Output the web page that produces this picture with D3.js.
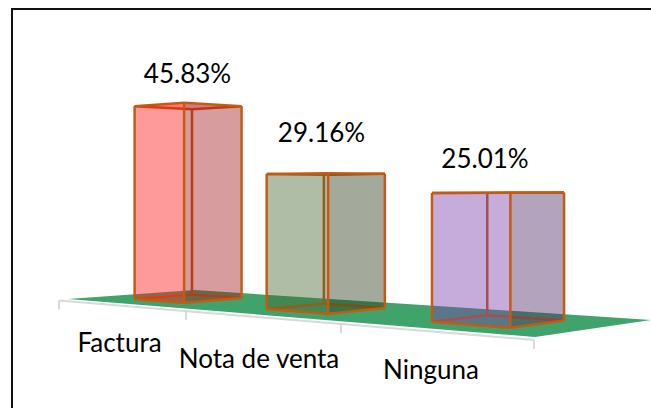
<!DOCTYPE html>
<html><head><meta charset="utf-8">
<script src="https://cdnjs.cloudflare.com/ajax/libs/d3/7.8.5/d3.min.js"></script>
<style>html,body{margin:0;padding:0;background:#fff}svg{display:block}text{font-family:Lato,"Open Sans",sans-serif;fill:#000}</style>
</head><body><svg id="c" width="651" height="408"></svg>
<script>
const categories = ["Factura", "Nota de venta", "Ninguna"];
const values = [45.83, 29.16, 25.01];
const valueLabels = ["45.83%", "29.16%", "25.01%"];

const svg = d3.select("#c");
svg.append("path").attr("d","M12,408V9H651").attr("fill","none").attr("stroke","#111").attr("stroke-width",2);

const Q = [[68,299],[535,337],[651,320],[195,290]];
function makeHomography([p0,p1,p2,p3]){
  const dx1=p1[0]-p2[0],dx2=p3[0]-p2[0],sx=p0[0]-p1[0]+p2[0]-p3[0];
  const dy1=p1[1]-p2[1],dy2=p3[1]-p2[1],sy=p0[1]-p1[1]+p2[1]-p3[1];
  const den=dx1*dy2-dx2*dy1;
  const g=(sx*dy2-dx2*sy)/den,h=(dx1*sy-sx*dy1)/den;
  const a=p1[0]-p0[0]+g*p1[0],b=p3[0]-p0[0]+h*p3[0];
  const d=p1[1]-p0[1]+g*p1[1],e=p3[1]-p0[1]+h*p3[1];
  return (u,v)=>{const w=1+g*u+h*v;return {x:(p0[0]+a*u+b*v)/w,y:(p0[1]+d*u+e*v)/w,w};};
}
const floor = makeHomography(Q);
const band = d3.scaleBand().domain(categories).range([0,1]).paddingInner(0.6).paddingOuter(0.27);
const V0 = 0.26, V1 = 0.71;
const K = 4.2, P = 0.9;
const heightPx = (val,w)=>val*K*Math.pow(w,-P);

function pt(u,v,val){const p=floor(u,v);return [p.x,p.y-(val?heightPx(val,p.w):0)];}
const line = d3.line();

svg.append("path").attr("d",line(Q)+"Z").attr("fill","#40a36b");

const axisG=-0.27;
const axisX=d3.scaleLinear().domain([0,1]).range([59,534+axisG*534]);
const axisY=d3.scaleLinear().domain([0,1]).range([300.5,340+axisG*340]);
const axisP=u=>{const w=1+axisG*u;return [axisX(u)/w,axisY(u)/w];};
const AX="#d9d9d9";
svg.append("path").attr("d",line([axisP(0),axisP(1)])).attr("stroke",AX).attr("stroke-width",2).attr("fill","none");
d3.range(0,4).forEach(i=>{const p=axisP(i/3);
  svg.append("line").attr("x1",p[0]).attr("x2",p[0]).attr("y1",p[1]).attr("y2",p[1]+9).attr("stroke",AX).attr("stroke-width",2);});

const leftFill=["rgb(255,21,21)","rgb(72,102,49)","rgb(123,63,172)"];
const rightFill=["rgb(160,25,30)","rgb(42,58,23)","rgb(81,42,102)"];
const EDGE="#c55a11", A=0.43, SW=2.5;

categories.forEach((c,i)=>{
  const u0=band(c),u1=u0+band.bandwidth(),val=values[i];
  const b=[pt(u0,V0),pt(u1,V0),pt(u1,V1),pt(u0,V1)];
  const t=[pt(u0,V0,val),pt(u1,V0,val),pt(u1,V1,val),pt(u0,V1,val)];
  const g=svg.append("g");
  const edge=(a,z)=>g.append("path").attr("d",line([a,z])).attr("stroke",EDGE).attr("stroke-width",SW).attr("fill","none");
  edge(b[3],t[3]); edge(b[0],b[3]); edge(b[2],b[3]); edge(t[0],t[3]); edge(t[2],t[3]);
  g.append("path").attr("d",line(t)+"Z").attr("fill",leftFill[i]).attr("opacity",0.25);
  g.append("path").attr("d",line([t[0],t[1],b[1],b[0]])+"Z").attr("fill",leftFill[i]).attr("opacity",A);
  g.append("path").attr("d",line([t[1],t[2],b[2],b[1]])+"Z").attr("fill",rightFill[i]).attr("opacity",A);
  [[t[0],t[1]],[t[1],t[2]],[t[0],b[0]],[t[1],b[1]],[t[2],b[2]],[b[0],b[1]],[b[1],b[2]]].forEach(e=>edge(e[0],e[1]));
});

const FS=26;
const labelX=[187.5,321.5,485], labelY=[82.5,142,167.5];
valueLabels.forEach((s,i)=>svg.append("text").attr("x",labelX[i]).attr("y",labelY[i]).attr("text-anchor","middle").attr("font-size",FS).text(s));
const catX=[119.5,259,431], catY=[352,368,379];
categories.forEach((s,i)=>svg.append("text").attr("x",catX[i]).attr("y",catY[i]).attr("text-anchor","middle").attr("font-size",FS).text(s));
</script></body></html>
